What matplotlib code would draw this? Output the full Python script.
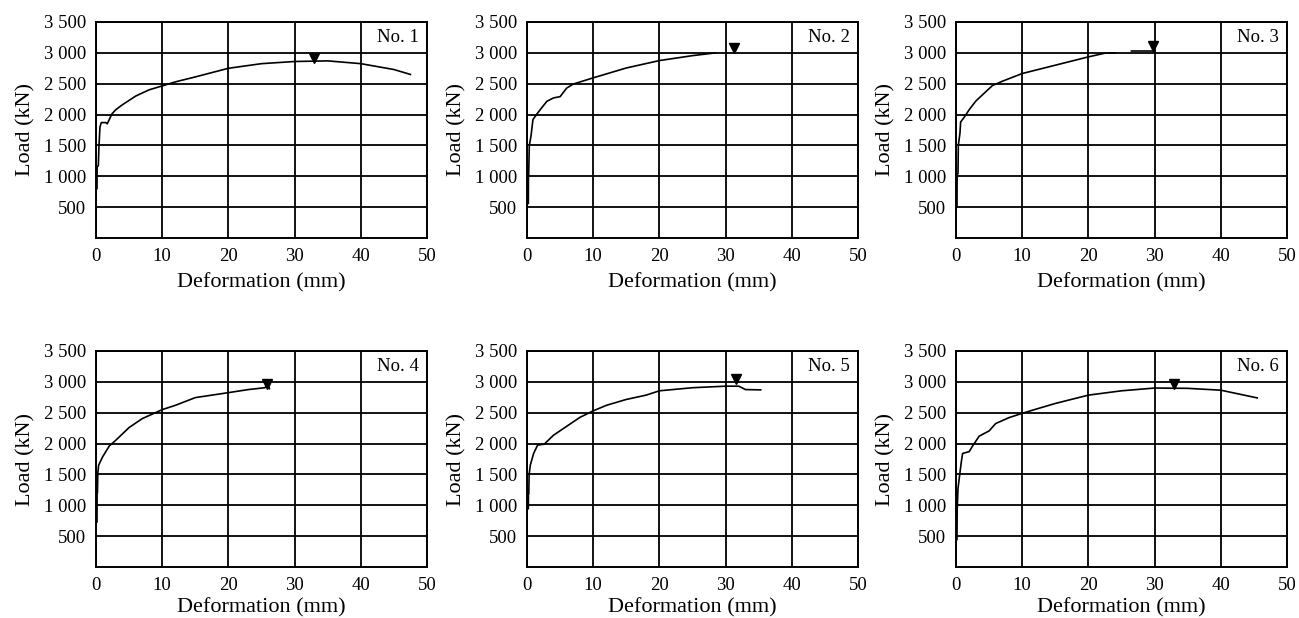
import matplotlib
matplotlib.use("Agg")
import matplotlib.pyplot as plt
import numpy as np

plt.rcParams['font.family'] = ['Liberation Serif', 'DejaVu Serif']

# ---- data (deformation mm, load kN) ----
x1 = [0.15, 0.17, 0.25, 0.35, 0.45, 0.6, 0.8, 1.5, 1.7, 2.4, 3, 4, 5, 6, 8, 10, 12, 15, 20, 25, 30, 35, 40, 45, 47.5]
y1 = [800, 1150, 1160, 1170, 1500, 1800, 1870, 1870, 1850, 2010, 2080, 2160, 2230, 2300, 2400, 2465, 2530, 2610, 2750, 2825, 2860, 2870, 2825, 2730, 2650]
p1 = (33.0, 2920)

x2 = [0.2, 0.22, 0.25, 0.35, 0.6, 0.9, 1.5, 2, 3, 4, 5, 6, 7, 10, 15, 20, 25, 28.5]
y2 = [560, 1015, 1020, 1500, 1650, 1920, 2010, 2080, 2215, 2270, 2290, 2430, 2495, 2595, 2755, 2875, 2955, 3000]
p2 = (31.3, 3080)

x3 = [0.15, 0.17, 0.3, 0.35, 0.6, 0.7, 1.2, 2, 3, 4, 5.5, 7, 10, 15, 20, 22.5, 24, 24.01, 26.5, 30]
y3 = [500, 1040, 1040, 1500, 1700, 1880, 1950, 2080, 2220, 2320, 2470, 2540, 2665, 2800, 2935, 2995, 3000, np.nan, 3030, 3030]
p3 = (29.7, 3110)

x4 = [0.15, 0.17, 0.22, 0.27, 0.4, 1, 2, 3, 5, 7, 10, 12, 15, 20, 23, 25.5, 26.0, 26.2]
y4 = [730, 1200, 1200, 1515, 1650, 1785, 1960, 2055, 2260, 2405, 2550, 2620, 2745, 2825, 2875, 2905, 2950, 2890]
p4 = (25.8, 2965)

x5 = [0.2, 0.22, 0.27, 0.32, 0.5, 1, 1.6, 2.6, 4, 6, 8, 10, 12, 15, 18, 20, 25, 30, 32, 33, 35.3]
y5 = [945, 1190, 1190, 1500, 1650, 1840, 1975, 1990, 2135, 2280, 2425, 2530, 2620, 2715, 2785, 2855, 2905, 2930, 2930, 2875, 2870]
p5 = (31.6, 3045)

x6 = [0.15, 0.18, 0.3, 0.55, 0.8, 1, 2, 2.5, 3.5, 5, 6, 8, 10, 12, 15, 20, 25, 30, 35, 40, 45.5]
y6 = [445, 920, 1270, 1490, 1700, 1840, 1870, 1960, 2120, 2205, 2325, 2420, 2490, 2555, 2650, 2785, 2855, 2900, 2895, 2865, 2740]
p6 = (33.0, 2963)

series = [(x1, y1, p1), (x2, y2, p2), (x3, y3, p3), (x4, y4, p4), (x5, y5, p5), (x6, y6, p6)]
labels = ["No. 1", "No. 2", "No. 3", "No. 4", "No. 5", "No. 6"]

xticks = [0, 10, 20, 30, 40, 50]
yticks = [500, 1000, 1500, 2000, 2500, 3000, 3500]
ytick_labels = ["500", "1 000", "1 500", "2 000", "2 500", "3 000", "3 500"]

fig = plt.figure(figsize=(12.99, 6.18), dpi=100)
W, H = 1299, 618
lefts = [96, 527, 956]
width = 331
rows = [(22, 238), (351, 567)]

for i, (xs, ys, pk) in enumerate(series):
    r, c = divmod(i, 3)
    top, bot = rows[r]
    ax = fig.add_axes([lefts[c] / W, 1 - bot / H, width / W, (bot - top) / H])
    ax.set_xlim(0, 50)
    ax.set_ylim(0, 3500)
    ax.set_xticks(xticks)
    ax.set_yticks(yticks)
    ax.set_yticklabels(ytick_labels)
    ax.grid(True, color='black', linewidth=1.3)
    ax.set_axisbelow(True)
    ax.tick_params(length=0, labelsize=13.5, pad=7)
    for s in ax.spines.values():
        s.set_linewidth(1.4)
        s.set_color('black')
    ax.plot(xs, ys, color='black', linewidth=1.2, zorder=3)
    ax.plot([pk[0]], [pk[1]], marker='v', color='black', markersize=7, linestyle='none', zorder=4)
    ax.text(0.975, 0.93, labels[i], transform=ax.transAxes, ha='right', va='center', fontsize=13.5,
            bbox=dict(facecolor='white', edgecolor='none', pad=1))
    ax.set_xlabel("Deformation (mm)", fontsize=16, labelpad=6 if r == 0 else 3)
    ax.set_ylabel("Load (kN)", fontsize=16, labelpad=6)

fig.savefig("out.png", dpi=100)
